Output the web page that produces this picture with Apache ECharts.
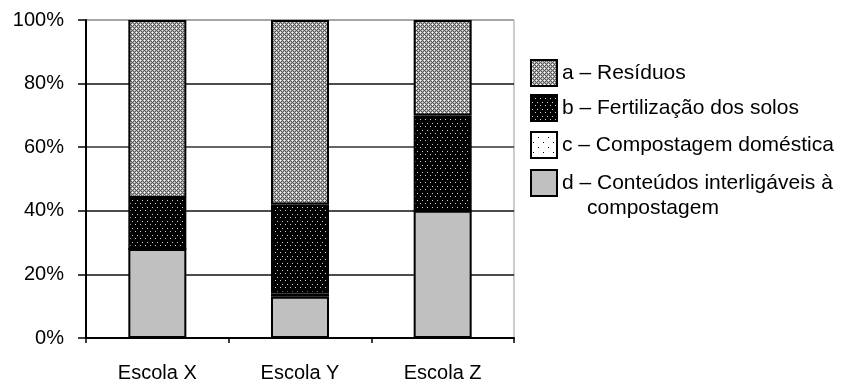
<!DOCTYPE html>
<html>
<head>
<meta charset="utf-8">
<script src="https://cdn.jsdelivr.net/npm/echarts@6/dist/echarts.min.js"></script>
<style>
  html, body { margin: 0; padding: 0; background: #fff; }
  #chart { width: 853px; height: 383px; }
</style>
</head>
<body>
<div id="chart"></div>
<script>
// Categories and stacked shares (%) per school
const schools = ['Escola X', 'Escola Y', 'Escola Z'];
const residuos = [56, 58, 30];
const fertilizacao = [16, 28, 30];
const compostagemDomestica = [0, 1, 0];
const conteudos = [28, 13, 40];

const legendNames = [
  'a – Resíduos',
  'b – Fertilização dos solos',
  'c – Compostagem doméstica',
  'd – Conteúdos interligáveis à'
];
const legendSecondLine = 'compostagem';
const yTicks = [0, 20, 40, 60, 80, 100];

// Small repeating tiles used as hatch fills
function makeTile(rows, palette) {
  const h = rows.length, w = rows[0].length;
  const c = document.createElement('canvas');
  c.width = w; c.height = h;
  const g = c.getContext('2d');
  for (let y = 0; y < h; y++) {
    for (let x = 0; x < w; x++) {
      g.fillStyle = palette[rows[y][x]];
      g.fillRect(x, y, 1, 1);
    }
  }
  return { image: c, repeat: 'repeat' };
}

// checkered grey mesh with white spots
const fillA = makeTile([
  'WCKC',
  'CKGK',
  'KGLG',
  'CKGK'
], { W: '#ffffff', C: '#c4c4c4', K: '#5a5a5a', G: '#9c9c9c', L: '#e6e6e6' });

// black with small light dots on offset rows
const fillB = makeTile([
  'DKKKK',
  'KKKKK',
  'KKKKK',
  'KKKKK',
  'KKDKK',
  'KKKKK',
  'KKKKK'
], { K: '#000000', D: '#cfcfcf' });

// white with sparse black dots
const fillC = makeTile([
  'WWWWWWWWWW',
  'WWWWWWWWWW',
  'WWWKWWWWWW',
  'WWWWWWWWWW',
  'WWWWWWWWWW',
  'WWWWWWWWWW',
  'WWWWWWWWWW',
  'WWWWWWWWKW',
  'WWWWWWWWWW',
  'WWWWWWWWWW'
], { W: '#ffffff', K: '#000000' });

const fillD = '#c0c0c0';

const fills = [fillA, fillB, fillC, fillD];
const seriesData = [residuos, fertilizacao, compostagemDomestica, conteudos];

const font = "'Liberation Sans', Arial, Helvetica, sans-serif";

// Bars are stacked bottom-up: d, c, b, a
const series = [3, 2, 1, 0].map(i => ({
  name: legendNames[i],
  type: 'bar',
  stack: 'total',
  barWidth: 58,
  data: seriesData[i],
  itemStyle: { color: fills[i], borderColor: '#000', borderWidth: 2 },
  emphasis: { disabled: true },
  animation: false
}));

// Legend drawn as swatches plus text
const legendY = [73, 108, 145, 183];
const graphic = [];
legendNames.forEach((name, i) => {
  graphic.push({
    type: 'rect',
    shape: { x: 531, y: legendY[i] - 13, width: 26, height: 26 },
    style: { fill: fills[i], stroke: '#000', lineWidth: 2 },
    silent: true
  });
  graphic.push({
    type: 'text',
    x: 562, y: legendY[i],
    style: {
      text: name, fill: '#000', font: '21px ' + font,
      textVerticalAlign: 'middle', textAlign: 'left'
    },
    silent: true
  });
});
graphic.push({
  type: 'text',
  x: 587, y: legendY[3] + 25,
  style: {
    text: legendSecondLine, fill: '#000', font: '21px ' + font,
    textVerticalAlign: 'middle', textAlign: 'left'
  },
  silent: true
});

const chart = echarts.init(document.getElementById('chart'), null, { renderer: 'canvas' });
chart.setOption({
  animation: false,
  backgroundColor: '#fff',
  grid: {
    left: 86, right: 339, top: 20, bottom: 45,
    show: true, borderColor: '#999', borderWidth: 1, backgroundColor: 'transparent'
  },
  xAxis: {
    type: 'category',
    data: schools,
    boundaryGap: true,
    axisLine: { lineStyle: { color: '#000', width: 2 } },
    axisTick: { show: true, length: 5, alignWithLabel: false, lineStyle: { color: '#000', width: 1.5 } },
    axisLabel: { color: '#000', fontSize: 20, fontFamily: font, margin: 25 },
    splitLine: { show: false }
  },
  yAxis: {
    type: 'value',
    min: yTicks[0],
    max: yTicks[yTicks.length - 1],
    interval: yTicks[1] - yTicks[0],
    axisLine: { show: true, lineStyle: { color: '#000', width: 2 } },
    axisTick: { show: true, length: 8, lineStyle: { color: '#000', width: 1.5 } },
    axisLabel: { color: '#000', fontSize: 20, fontFamily: font, margin: 22, formatter: '{value}%' },
    splitLine: {
      show: true,
      lineStyle: { color: ['#000', '#111', '#111', '#333', '#111', '#999'], width: 1.5 }
    }
  },
  series: series,
  graphic: graphic
});
</script>
</body>
</html>
